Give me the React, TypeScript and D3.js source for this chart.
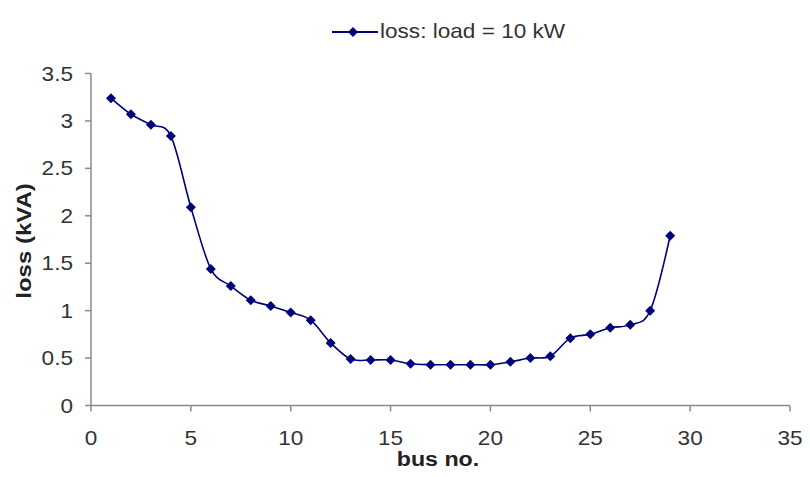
import React from "react";
import * as d3 from "d3";

const busNo = [1,2,3,4,5,6,7,8,9,10,11,12,13,14,15,16,17,18,19,20,21,22,23,24,25,26,27,28,29];
const lossKVA = [3.24,3.07,2.96,2.84,2.09,1.44,1.26,1.11,1.05,0.98,0.90,0.66,0.49,0.48,0.48,0.44,0.43,0.43,0.43,0.43,0.46,0.50,0.52,0.71,0.75,0.82,0.85,1.00,1.79];
const xTicks = [0,5,10,15,20,25,30,35];
const yTicks = [0,0.5,1,1.5,2,2.5,3,3.5];
const seriesName = "loss: load = 10 kW";

export default function App() {
  const W = 810, H = 477;
  const x = d3.scaleLinear().domain([0, 35]).range([91, 790]);
  const y = d3.scaleLinear().domain([0, 3.5]).range([405.5, 73.5]);
  const color = "#00007a";
  const axisColor = "#8a8a8a";
  const font = "'Liberation Sans', Arial, sans-serif";
  const sx = 1.13;
  const data = busNo.map((b, i) => ({ b, v: lossKVA[i] }));
  const line = d3.line<{ b: number; v: number }>()
    .x(d => x(d.b)).y(d => y(d.v))
    .curve(d3.curveCatmullRom.alpha(0));
  const diamond = (cx: number, cy: number, r = 5) =>
    `M${cx},${cy - r}L${cx + r},${cy}L${cx},${cy + r}L${cx - r},${cy}Z`;

  return (
    <svg width={W} height={H} style={{ position: "absolute", left: 0, top: 0, background: "#fff" }}>
      <rect x={0} y={0} width={W} height={H} fill="#fff" />
      {/* legend */}
      <line x1={332} x2={378} y1={32} y2={32} stroke={color} strokeWidth={1.8} />
      <path d={diamond(353, 32, 5)} fill={color} />
      <text transform={`translate(380,37.5) scale(${sx},1)`} fontFamily={font} fontSize={20} fill="#333">{seriesName}</text>

      {/* y axis */}
      <line x1={x(0)} x2={x(0)} y1={y(3.5)} y2={y(0)} stroke={axisColor} strokeWidth={1.5} />
      {yTicks.map(t => (
        <g key={"y" + t}>
          <line x1={x(0) - 6} x2={x(0)} y1={y(t)} y2={y(t)} stroke={axisColor} strokeWidth={1.5} />
          <text transform={`translate(${x(0) - 18},${y(t) + 7}) scale(${sx},1)`} textAnchor="end" fontFamily={font} fontSize={20} fill="#333">{t}</text>
        </g>
      ))}
      {/* x axis */}
      <line x1={x(0)} x2={x(35)} y1={y(0)} y2={y(0)} stroke={axisColor} strokeWidth={1.5} />
      {xTicks.map(t => (
        <g key={"x" + t}>
          <line x1={x(t)} x2={x(t)} y1={y(0)} y2={y(0) + 6} stroke={axisColor} strokeWidth={1.5} />
          <text transform={`translate(${x(t)},445) scale(${sx},1)`} textAnchor="middle" fontFamily={font} fontSize={20} fill="#333">{t}</text>
        </g>
      ))}
      <text transform={`translate(438,466) scale(1.16,1)`} textAnchor="middle" fontFamily={font} fontSize={20} fontWeight="bold" fill="#222">bus no.</text>
      <text transform={`translate(31,241) rotate(-90) scale(1.2,1)`} textAnchor="middle" fontFamily={font} fontSize={20} fontWeight="bold" fill="#222">loss (kVA)</text>

      {/* series */}
      <path d={line(data) || ""} fill="none" stroke={color} strokeWidth={1.6} />
      {data.map(d => (
        <path key={d.b} d={diamond(x(d.b), y(d.v), 5)} fill={color} />
      ))}
    </svg>
  );
}
